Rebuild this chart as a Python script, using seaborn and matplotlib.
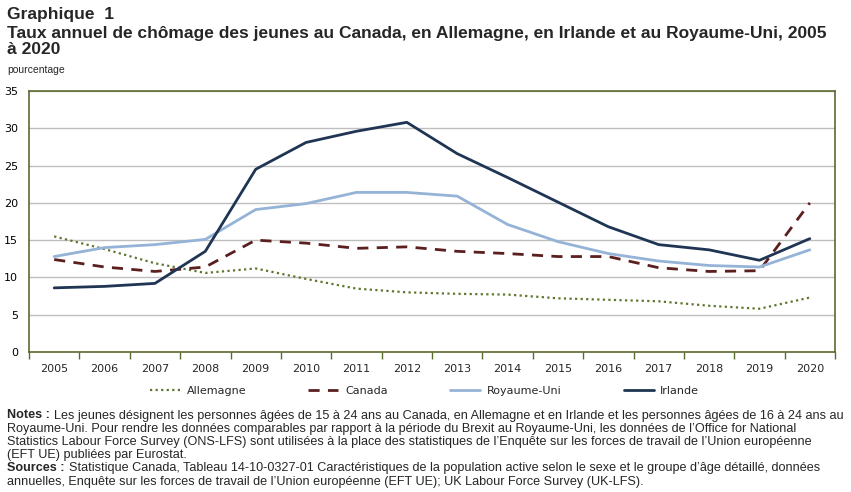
import matplotlib
matplotlib.use("Agg")
import matplotlib.pyplot as plt
import seaborn as sns
import pandas as pd
import numpy as np
from matplotlib.lines import Line2D
from matplotlib.ticker import FixedLocator

years = ["2005", "2006", "2007", "2008", "2009", "2010", "2011", "2012",
         "2013", "2014", "2015", "2016", "2017", "2018", "2019", "2020"]
allemagne = [15.5, 13.8, 11.9, 10.6, 11.2, 9.8, 8.5, 8.0, 7.8, 7.7, 7.2, 7.0, 6.8, 6.2, 5.8, 7.3]
canada = [12.4, 11.4, 10.8, 11.4, 15.0, 14.6, 13.9, 14.1, 13.5, 13.2, 12.8, 12.8, 11.3, 10.8, 10.9, 20.0]
royaume_uni = [12.8, 14.0, 14.4, 15.1, 19.1, 19.9, 21.4, 21.4, 20.9, 17.1, 14.8, 13.2, 12.2, 11.6, 11.4, 13.7]
irlande = [8.6, 8.8, 9.2, 13.5, 24.5, 28.1, 29.6, 30.8, 26.6, 23.4, 20.1, 16.8, 14.4, 13.7, 12.3, 15.2]
yticks = [0, 5, 10, 15, 20, 25, 30, 35]

series = [
    ("Allemagne", allemagne, "#5F7530", (0, (1, 1.5)), 1.6),
    ("Canada", canada, "#5C1F1F", (0, (4, 3)), 2.0),
    ("Royaume-Uni", royaume_uni, "#95B3D7", "-", 2.0),
    ("Irlande", irlande, "#1F3553", "-", 2.0),
]

sns.set_theme(style="white")
plt.rcParams["font.family"] = ["DejaVu Sans"]

fig = plt.figure(figsize=(8.51, 4.92), dpi=100)
ax = fig.add_axes([29 / 851, 1 - 352 / 492, 806 / 851, 261 / 492])

x = np.arange(len(years))
for name, vals, color, ls, lw in series:
    df = pd.DataFrame({"x": x, "y": vals})
    sns.lineplot(data=df, x="x", y="y", ax=ax, color=color, linestyle=ls,
                 linewidth=lw, legend=False)

ax.set_xlim(-0.5, len(years) - 0.5)
ax.set_ylim(0, 35)
ax.set_yticks(yticks)
ax.set_yticklabels([str(t) for t in yticks], fontsize=8, color="#000000")
ax.grid(axis="y", color="#BEBEBE", linewidth=1)
ax.set_axisbelow(True)

# tick marks at category boundaries, labels at centers
ax.xaxis.set_major_locator(FixedLocator(np.arange(-0.5, len(years), 1.0)))
ax.set_xticklabels([])
ax.xaxis.set_minor_locator(FixedLocator(x))
ax.set_xticklabels(years, minor=True, fontsize=8)
ax.tick_params(axis="x", which="major", direction="out", length=5, width=1,
               color="#5A6B2E", bottom=True)
ax.tick_params(axis="x", which="minor", length=0, pad=9)
ax.tick_params(axis="y", length=0, pad=8, labelsize=8)
ax.set_xlabel("")
ax.set_ylabel("")
for s in ax.spines.values():
    s.set_color("#5A6B2E")
    s.set_linewidth(1.2)

handles = [Line2D([], [], color=c, linestyle=ls, linewidth=lw) for _, _, c, ls, lw in series]
labels = [n for n, *_ in series]
fig.legend(handles, labels, loc="center", bbox_to_anchor=(0.499, 1 - 391 / 492),
           ncol=4, frameon=False, fontsize=8, handlelength=2.7, columnspacing=5.6,
           handletextpad=0.6)

tfont = ["Liberation Sans", "DejaVu Sans"]
fig.text(7 / 851, 1 - 14 / 492, "Graphique  1", fontsize=12.5, fontweight="bold",
         family=tfont, va="center", ha="left")
fig.text(7 / 851, 1 - 33 / 492,
         "Taux annuel de chômage des jeunes au Canada, en Allemagne, en Irlande et au Royaume-Uni, 2005",
         fontsize=12.5, fontweight="bold", family=tfont, va="center", ha="left")
fig.text(7 / 851, 1 - 50 / 492, "à 2020", fontsize=12.5, fontweight="bold",
         family=tfont, va="center", ha="left")
fig.text(7 / 851, 1 - 70 / 492, "pourcentage", fontsize=7.5, family=tfont,
         va="center", ha="left")

notes = [
    (True, "Notes : ", "Les jeunes désignent les personnes âgées de 15 à 24 ans au Canada, en Allemagne et en Irlande et les personnes âgées de 16 à 24 ans au"),
    (False, "", "Royaume-Uni. Pour rendre les données comparables par rapport à la période du Brexit au Royaume-Uni, les données de l’Office for National"),
    (False, "", "Statistics Labour Force Survey (ONS-LFS) sont utilisées à la place des statistiques de l’Enquête sur les forces de travail de l’Union européenne"),
    (False, "", "(EFT UE) publiées par Eurostat."),
    (True, "Sources : ", "Statistique Canada, Tableau 14-10-0327-01 Caractéristiques de la population active selon le sexe et le groupe d’âge détaillé, données"),
    (False, "", "annuelles, Enquête sur les forces de travail de l’Union européenne (EFT UE); UK Labour Force Survey (UK-LFS)."),
]
y0 = 415.5
dy = 13.2
fig.canvas.draw()
renderer = fig.canvas.get_renderer()
for i, (has_bold, bold, rest) in enumerate(notes):
    yy = 1 - (y0 + i * dy) / 492
    xx = 7 / 851
    if has_bold:
        t = fig.text(xx, yy, bold, fontsize=9.05, fontweight="bold", family=tfont,
                     va="center", ha="left")
        bb = t.get_window_extent(renderer)
        xx = (bb.x1 + 1) / 851
    fig.text(xx, yy, rest, fontsize=9.05, family=tfont, va="center", ha="left")

fig.savefig("out.png", dpi=100)
